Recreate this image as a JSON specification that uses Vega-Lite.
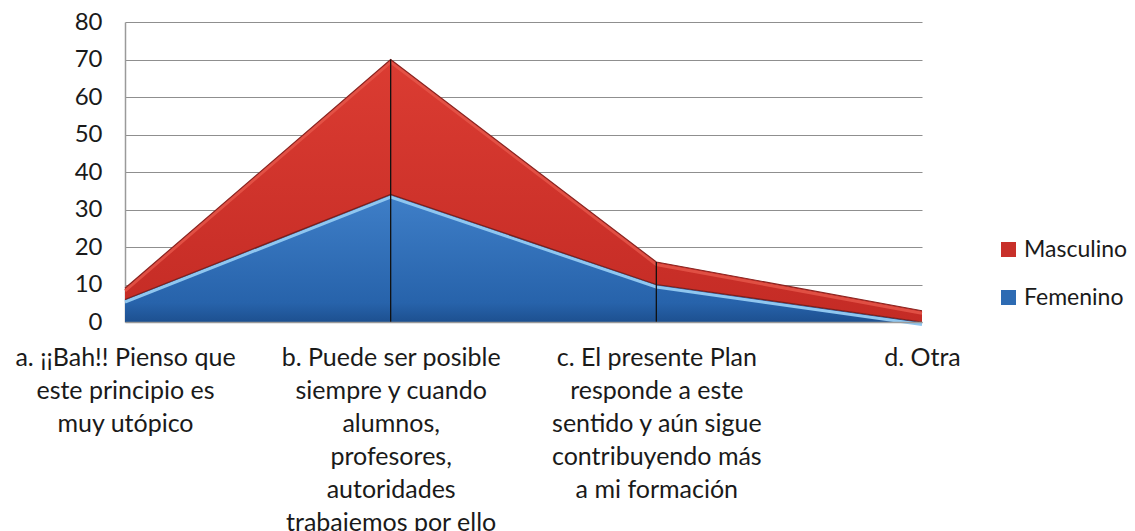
{
  "$schema": "https://vega.github.io/schema/vega-lite/v6.json",
  "width": 797,
  "height": 300,
  "autosize": {"type": "none"},
  "padding": {"left": 125, "top": 22, "right": 213, "bottom": 209},
  "background": "white",
  "config": {
    "font": "Lato",
    "view": {"stroke": null},
    "axis": {"labelColor": "#1a1a1a", "labelFontSize": 24, "labelFont": "Lato"}
  },
  "data": {
    "values": [
      {"respuesta": "a. ¡¡Bah!! Pienso que este principio es muy utópico", "genero": "Femenino", "valor": 6},
      {"respuesta": "a. ¡¡Bah!! Pienso que este principio es muy utópico", "genero": "Masculino", "valor": 3},
      {"respuesta": "b. Puede ser posible siempre y cuando alumnos, profesores, autoridades trabajemos por ello", "genero": "Femenino", "valor": 34},
      {"respuesta": "b. Puede ser posible siempre y cuando alumnos, profesores, autoridades trabajemos por ello", "genero": "Masculino", "valor": 36},
      {"respuesta": "c. El presente Plan responde a este sentido y aún sigue contribuyendo más a mi formación", "genero": "Femenino", "valor": 10},
      {"respuesta": "c. El presente Plan responde a este sentido y aún sigue contribuyendo más a mi formación", "genero": "Masculino", "valor": 6},
      {"respuesta": "d. Otra", "genero": "Femenino", "valor": 0},
      {"respuesta": "d. Otra", "genero": "Masculino", "valor": 3}
    ]
  },
  "transform": [
    {"stack": "valor", "groupby": ["respuesta"], "sort": [{"field": "genero", "order": "ascending"}], "as": ["y0", "y1"]}
  ],
  "encoding": {
    "x": {
      "field": "respuesta",
      "type": "ordinal",
      "sort": null,
      "scale": {"type": "point", "padding": 0},
      "axis": {
        "title": null,
        "labelAngle": 0,
        "ticks": false,
        "domainColor": "#9a9a9a",
        "domainWidth": 1.5,
        "zindex": 1,
        "labelPadding": 23,
        "labelFontSize": 25,
        "labelLineHeight": 33,
        "labelBound": false,
        "labelFlush": false,
        "labelOverlap": false,
        "labelLimit": 0,
        "labelExpr": "slice(datum.label,0,2)=='a.' ? ['a. ¡¡Bah!! Pienso que','este principio es','muy utópico'] : slice(datum.label,0,2)=='b.' ? ['b. Puede ser posible','siempre y cuando','alumnos,','profesores,','autoridades','trabajemos por ello'] : slice(datum.label,0,2)=='c.' ? ['c. El presente Plan','responde a este','sentido y aún sigue','contribuyendo más','a mi formación'] : datum.label"
      }
    },
    "y": {
      "field": "y1",
      "type": "quantitative",
      "scale": {"domain": [0, 80]},
      "axis": {
        "title": null,
        "values": [0, 10, 20, 30, 40, 50, 60, 70, 80],
        "ticks": false,
        "labelPadding": 23,
        "gridColor": "#8f8f8f",
        "gridWidth": 1.2,
        "domainColor": "#9a9a9a",
        "domainWidth": 1.5,
        "zindex": 0
      }
    }
  },
  "layer": [
    {
      "transform": [{"filter": "datum.genero == 'Femenino'"}],
      "mark": {
        "type": "area",
        "color": {"gradient": "linear", "x1": 0, "y1": 0, "x2": 0, "y2": 1,
          "stops": [{"offset": 0, "color": "#3f7fc8"}, {"offset": 0.85, "color": "#2763ab"}, {"offset": 1, "color": "#1d5090"}]}
      },
      "encoding": {"y2": {"field": "y0"}}
    },
    {
      "transform": [{"filter": "datum.genero == 'Masculino'"}],
      "mark": {
        "type": "area",
        "color": {"gradient": "linear", "x1": 0, "y1": 0, "x2": 0, "y2": 1,
          "stops": [{"offset": 0, "color": "#db3c32"}, {"offset": 1, "color": "#c42b25"}]}
      },
      "encoding": {"y2": {"field": "y0"}}
    },
    {
      "transform": [{"filter": "datum.genero == 'Femenino'"}],
      "mark": {"type": "line", "color": "#8fc6ef", "strokeWidth": 3, "yOffset": 2.5},
      "encoding": {}
    },
    {
      "transform": [{"filter": "datum.genero == 'Masculino'"}],
      "mark": {"type": "line", "color": "#e6584b", "strokeWidth": 3, "yOffset": 2.5, "opacity": 0.8},
      "encoding": {}
    },
    {
      "transform": [{"filter": "datum.genero == 'Femenino'"}],
      "mark": {"type": "line", "color": "#7a1e1a", "strokeWidth": 1.2},
      "encoding": {}
    },
    {
      "transform": [{"filter": "datum.genero == 'Masculino'"}],
      "mark": {"type": "line", "color": "#8a2420", "strokeWidth": 1.2},
      "encoding": {}
    },
    {
      "transform": [{"filter": "datum.genero == 'Masculino' && (slice(datum.respuesta,0,2) == 'b.' || slice(datum.respuesta,0,2) == 'c.')"}],
      "mark": {"type": "rule", "color": "#111111", "strokeWidth": 1.3},
      "encoding": {"y2": {"datum": 0}}
    },
    {
      "mark": {"type": "point", "opacity": 0, "filled": true},
      "encoding": {
        "color": {
          "field": "genero",
          "type": "nominal",
          "scale": {"domain": ["Masculino", "Femenino"], "range": ["#c8302a", "#2d6bb3"]},
          "legend": {
            "title": null,
            "orient": "none",
            "legendX": 872,
            "legendY": 216,
            "padding": 0,
            "symbolType": "square",
            "symbolSize": 225,
            "symbolOpacity": 1,
            "symbolStrokeWidth": 0,
            "labelFontSize": 23,
            "labelFont": "Lato",
            "labelColor": "#1a1a1a",
            "labelOffset": 4,
            "rowPadding": 24
          }
        }
      }
    }
  ]
}
